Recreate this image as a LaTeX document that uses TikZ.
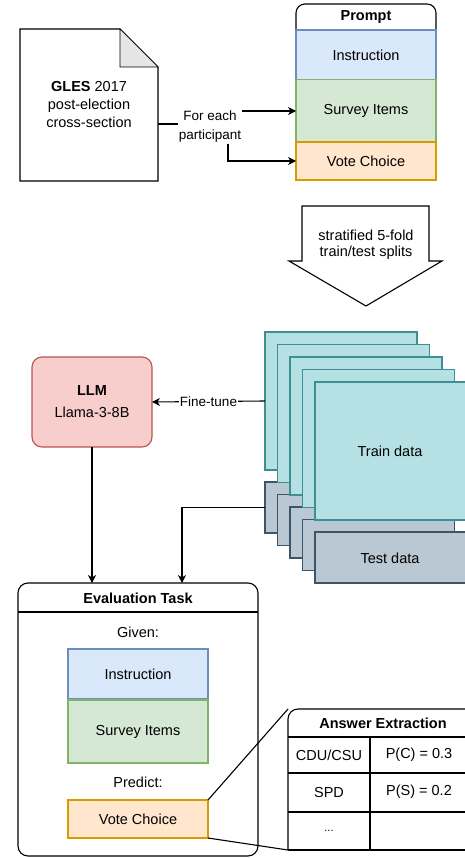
\documentclass[tikz,border=0pt]{standalone}
\usepackage{fontspec}
\setmainfont{Liberation Sans}
\usetikzlibrary{arrows.meta}

\definecolor{blueFill}{HTML}{DAE8FC}
\definecolor{blueLine}{HTML}{6C8EBF}
\definecolor{greenFill}{HTML}{D5E8D4}
\definecolor{greenLine}{HTML}{82B366}
\definecolor{orangeFill}{HTML}{FFE6CC}
\definecolor{orangeLine}{HTML}{D79B00}
\definecolor{redFill}{HTML}{F8CECC}
\definecolor{redLine}{HTML}{B85450}
\definecolor{tealFill}{HTML}{B5E1E5}
\definecolor{tealLine}{HTML}{3E8E94}
\definecolor{greyFill}{HTML}{BAC8D3}
\definecolor{greyLine}{HTML}{3C5568}

\begin{document}
\begin{tikzpicture}[x=1pt, y=-1pt, line width=1.1pt,
        >={Stealth[length=8pt,width=8pt,inset=2.5pt]},
        every node/.style={font=\fontsize{14.5}{18}\selectfont, outer sep=0pt},
        box/.style={draw, minimum width=140pt, inner sep=0pt},
        instr/.style={box, fill=blueFill, draw=blueLine, minimum height=50pt},
        items/.style={box, fill=greenFill, draw=greenLine, minimum height=63pt},
        vote/.style={box, fill=orangeFill, draw=orangeLine, minimum height=38pt},
        sheet/.style={draw, minimum width=152pt, inner sep=0pt},
        edgelabel/.style={font=\fontsize{13.5}{19}\selectfont, inner sep=1pt, fill=white}]
    \useasboundingbox (0,0) rectangle (465,858);
    \clip (0,0) rectangle (465,858);

    % the data file with its folded corner
    \filldraw[fill=white] (20,29) -- (120,29) -- (158,67) -- (158,181) -- (20,181) -- cycle;
    \filldraw[fill=gray!20, line width=0.6pt] (120,29) -- (158,67) -- (120,67) -- cycle;
    \node[align=center, minimum width=138pt, minimum height=152pt] (doc) at (89,105)
        {\textbf{GLES} 2017\\post-election\\cross-section};

    % the prompt
    \draw[rounded corners=9pt] (296,30) -- (296,4) -- (436,4) -- (436,30);
    \node (prompt) at (366,17) {\textbf{Prompt}};
    \node[instr] (instr) at (366,55) {Instruction};
    \node[items] (items) at (366,111) {Survey Items};
    \node[vote] (vote) at (366,161) {Vote Choice};

    % one prompt for each participant
    \node[edgelabel, align=center] (each) at (210,127) {For each\\participant};
    \draw ([yshift=-19pt]doc.east) -- ([yshift=-19pt]doc.east -| each.west);
    \draw[->] (items.west -| each.east) -- (items.west);
    \draw[->] ([xshift=18pt]each.south) |- (vote.west);

    % the big arrow down to the splits
    \draw[fill=white] (302,206) -- (429,206) -- (429,261) -- (442,261) -- (366,306)
        -- (289,261) -- (302,261) -- cycle;
    \node[align=center, font=\fontsize{14.5}{16.5}\selectfont] (split) at (366,245)
        {stratified 5-fold\\train/test splits};

    % the model
    \node[draw=redLine, fill=redFill, rounded corners=10pt, minimum width=120pt,
        minimum height=90pt, align=center] (llm) at (92,402) {\textbf{LLM}\\[4pt]Llama-3-8B};

    % the five folds, each a train sheet over a test sheet
    \foreach \i in {0,...,4} {
        \node[sheet, fill=tealFill, draw=tealLine, minimum height=138pt]
            (train\i) at (341+12.5*\i, 401+12.5*\i) {};
        \node[sheet, fill=greyFill, draw=greyLine, minimum height=51pt]
            (test\i) at (341+12.5*\i, 507.5+12.5*\i) {};
    }
    \node (trainlabel) at (390,451) {Train data};
    \node (testlabel) at (390,558) {Test data};

    % the evaluation task
    \node[draw, rounded corners=10pt, minimum width=240pt, minimum height=273pt] (eval) at (138,719.5) {};
    \draw (eval.west |- 0,612) -- (eval.east |- 0,612);
    \node (evaltitle) at (138,598) {\textbf{Evaluation Task}};
    \node (given) at (138,632) {Given:};
    \node[instr] (instr2) at (138,674) {Instruction};
    \node[items] (items2) at (138,731.5) {Survey Items};
    \node (predict) at (138,782) {Predict:};
    \node[vote] (vote2) at (138,819) {Vote Choice};

    % arrows
    \draw[->] (train0.west) -- node[edgelabel] {Fine-tune} (llm.east);
    \draw[->] (llm.south) -- (llm.south |- eval.north);
    \draw[->] (test0.west) -| ([xshift=44pt]eval.north);

    % the answer extraction table
    \node[minimum width=192pt, minimum height=141pt] (ext) at (384,779.5) {};
    \draw[rounded corners=10pt] (ext.south west) -- (ext.north west) -- (ext.north east);
    \draw (ext.south west) -- (ext.south east);
    \draw (288,737) -- (480,737);
    \draw (288,773) -- (480,773);
    \draw (288,812) -- (480,812);
    \draw (370,737) -- (370,850);
    \node (exthead) at (383,723) {\textbf{Answer Extraction}};
    \node (cdu) at (329,755) {CDU/CSU};
    \node (pc) at (419,755) {P(C) = 0.3};
    \node (spd) at (329,792) {SPD};
    \node (ps) at (419,792) {P(S) = 0.2};
    \node[font=\fontsize{11}{12}\selectfont] (dots) at (329,831) {...};
    \draw (vote2.north east) -- (ext.north west);
    \draw (vote2.south east) -- (ext.south west);
\end{tikzpicture}
\end{document}
